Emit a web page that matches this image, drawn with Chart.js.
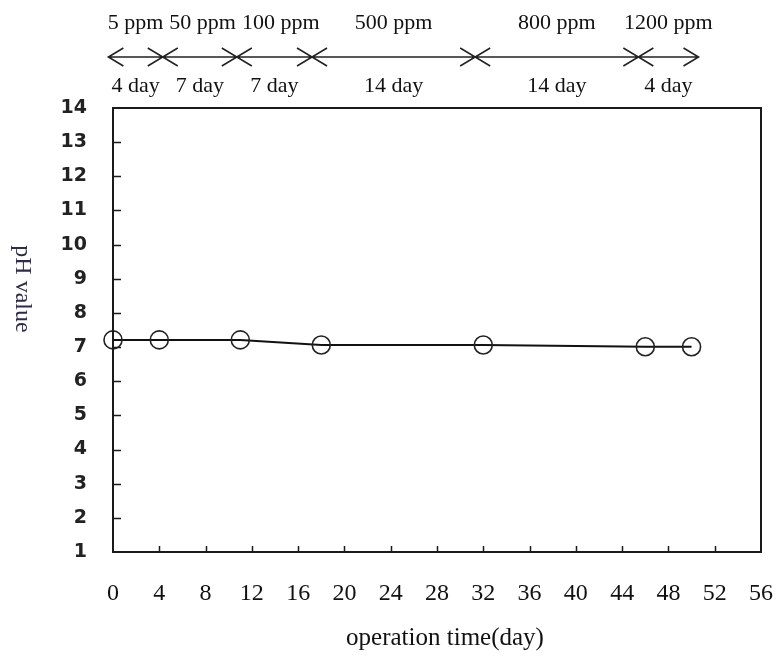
<!DOCTYPE html>
<html>
<head>
    <title>pH value</title>
    <meta charset="utf-8">
    <script src="https://cdn.jsdelivr.net/npm/chart.js"></script>
    <style>
        body { margin: 0; background: #fff; }
        #wrap { width: 779px; height: 659px; }
    </style>
</head>
<body>
    <div id="wrap">
        <canvas id="myChart"></canvas>
    </div>
    <script>
        // operation time (day) and pH readings
        var days = [0, 4, 11, 18, 32, 46, 50];
        var phValues = [7.21, 7.21, 7.21, 7.06, 7.06, 7.01, 7.01];

        var xTicks = [0, 4, 8, 12, 16, 20, 24, 28, 32, 36, 40, 44, 48, 52, 56];
        var yTicks = [1, 2, 3, 4, 5, 6, 7, 8, 9, 10, 11, 12, 13, 14];

        // stages drawn above the plot, arrow ends in days
        var stageEnds = [-0.4, 4.3, 10.7, 17.2, 31.3, 45.4, 50.6];
        var stageLabels = ['5 ppm', '50 ppm', '100 ppm', '500 ppm', '800 ppm', '1200 ppm'];
        var stageDays = ['4 day', '7 day', '7 day', '14 day', '14 day', '4 day'];

        var serif = '"Liberation Serif", "Times New Roman", serif';

        var points = [];
        for (var i = 0; i < days.length; i++) {
            points.push({x: days[i], y: phValues[i]});
        }

        var decor = {
            id: 'decor',
            afterDraw: function(chart) {
                var ctx = chart.ctx;
                var a = chart.chartArea;
                var xs = chart.scales.x, ys = chart.scales.y;
                ctx.save();

                // frame
                ctx.strokeStyle = '#1a1a1a';
                ctx.lineWidth = 2;
                ctx.strokeRect(a.left, a.top, a.right - a.left, a.bottom - a.top);

                // inward ticks
                ctx.lineWidth = 1.5;
                ctx.beginPath();
                yTicks.forEach(function(v) {
                    if (v == yTicks[0] || v == yTicks[yTicks.length - 1]) return;
                    var py = Math.round(ys.getPixelForValue(v)) + 0.5;
                    ctx.moveTo(a.left, py); ctx.lineTo(a.left + 8, py);
                });
                xTicks.forEach(function(v) {
                    if (v == xTicks[0] || v == xTicks[xTicks.length - 1]) return;
                    var px = Math.round(xs.getPixelForValue(v)) + 0.5;
                    ctx.moveTo(px, a.bottom); ctx.lineTo(px, a.bottom - 6);
                });
                ctx.stroke();

                // axis titles
                ctx.fillStyle = '#111';
                ctx.font = '25px ' + serif;
                ctx.textAlign = 'center';
                ctx.textBaseline = 'alphabetic';
                ctx.fillText('operation time(day)', 445, 645);

                ctx.save();
                ctx.translate(16, 289);
                ctx.rotate(Math.PI / 2);
                ctx.fillStyle = '#2d2d45';
                ctx.font = '24px ' + serif;
                ctx.fillText('pH value', 0, 0);
                ctx.restore();

                // stage arrows
                var ay = 57;
                ctx.strokeStyle = '#222';
                ctx.lineWidth = 1.6;
                var first = xs.getPixelForValue(stageEnds[0]);
                var last = xs.getPixelForValue(stageEnds[stageEnds.length - 1]);
                ctx.beginPath();
                ctx.moveTo(first, ay); ctx.lineTo(last, ay);
                for (var k = 0; k < stageEnds.length; k++) {
                    var px = xs.getPixelForValue(stageEnds[k]);
                    if (k < stageEnds.length - 1) {
                        ctx.moveTo(px + 15, ay - 9); ctx.lineTo(px, ay); ctx.lineTo(px + 15, ay + 9);
                    }
                    if (k > 0) {
                        ctx.moveTo(px - 15, ay - 9); ctx.lineTo(px, ay); ctx.lineTo(px - 15, ay + 9);
                    }
                }
                ctx.stroke();

                // stage texts
                ctx.fillStyle = '#111';
                ctx.font = '22px ' + serif;
                var prevRight = -1000;
                for (var j = 0; j < stageLabels.length; j++) {
                    var mid = (xs.getPixelForValue(stageEnds[j]) + xs.getPixelForValue(stageEnds[j + 1])) / 2;
                    var w = ctx.measureText(stageLabels[j]).width;
                    var cx = Math.max(mid, prevRight + 6 + w / 2);
                    ctx.fillText(stageLabels[j], cx, 29);
                    prevRight = cx + w / 2;
                    ctx.fillText(stageDays[j], mid, 92);
                }
                ctx.restore();
            }
        };

        function create() {
            var data = {
                datasets: [{
                    label: 'pH',
                    data: points,
                    borderColor: '#111',
                    borderWidth: 2,
                    pointRadius: 9,
                    pointHoverRadius: 9,
                    pointBorderWidth: 1.6,
                    pointBorderColor: '#222',
                    pointBackgroundColor: 'rgba(0,0,0,0)',
                    tension: 0,
                    clip: false
                }]
            };

            var config = {
                type: 'line',
                data: data,
                options: {
                    responsive: true,
                    maintainAspectRatio: false,
                    animation: false,
                    layout: { padding: { top: 108, right: 18, left: 0, bottom: 0 } },
                    plugins: {
                        legend: { display: false },
                        tooltip: { enabled: false }
                    },
                    scales: {
                        x: {
                            type: 'linear',
                            min: 0, max: 56,
                            afterBuildTicks: function(s) { s.ticks = xTicks.map(function(v) { return {value: v}; }); },
                            afterFit: function(s) { s.height = 107; s.paddingLeft = 0; s.paddingRight = 0; },
                            grid: { display: false, drawTicks: false },
                            border: { display: false },
                            ticks: {
                                padding: 27,
                                color: '#111',
                                font: { family: serif, size: 24 }
                            }
                        },
                        y: {
                            min: 1, max: 14,
                            afterBuildTicks: function(s) { s.ticks = yTicks.map(function(v) { return {value: v}; }); },
                            afterFit: function(s) { s.width = 113; s.paddingTop = 0; s.paddingBottom = 0; },
                            grid: { display: false, drawTicks: false },
                            border: { display: false },
                            ticks: {
                                padding: 26,
                                color: '#222',
                                font: { family: '"DejaVu Sans", Verdana, sans-serif', size: 19, weight: 'bold' }
                            }
                        }
                    }
                },
                plugins: [decor]
            };

            return new Chart(document.getElementById('myChart'), config);
        }

        var myChart = create();
    </script>
</body>
</html>
